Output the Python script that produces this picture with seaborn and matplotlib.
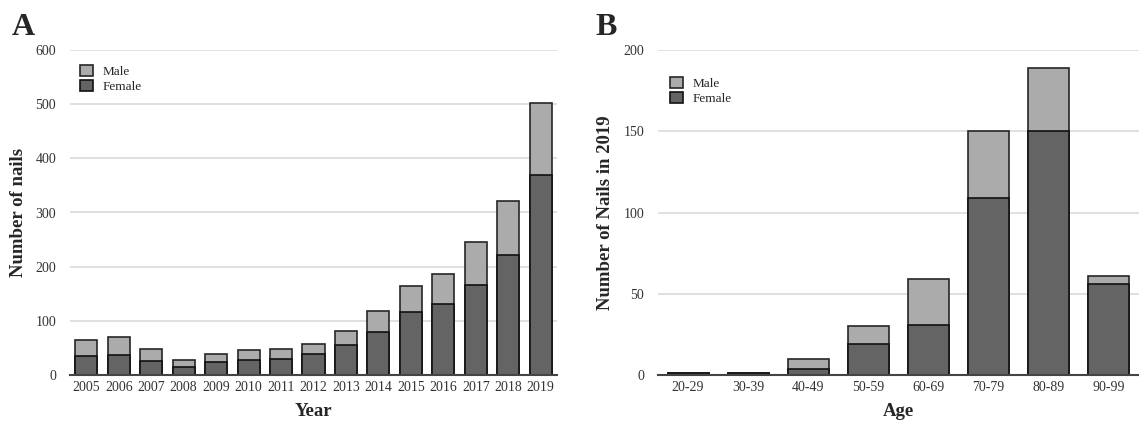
import numpy as np
import pandas as pd
import matplotlib
matplotlib.use("Agg")
import matplotlib.pyplot as plt
import seaborn as sns

# panel A: nails per year
years = ["2005", "2006", "2007", "2008", "2009", "2010", "2011", "2012",
         "2013", "2014", "2015", "2016", "2017", "2018", "2019"]
female_year = [35, 37, 25, 14, 24, 28, 30, 38, 55, 80, 116, 132, 167, 221, 369]
male_year = [30, 33, 23, 14, 14, 18, 18, 19, 27, 38, 49, 54, 79, 100, 133]

# panel B: nails in 2019 by age
ages = ["20-29", "30-39", "40-49", "50-59", "60-69", "70-79", "80-89", "90-99"]
female_age = [1, 1, 4, 19, 31, 109, 150, 56]
male_age = [0, 0, 6, 11, 28, 41, 39, 5]

sns.set_style("white")
plt.rcParams["font.family"] = ["Liberation Serif", "DejaVu Serif"]

male_col = "#ababab"
female_col = "#646464"
edge_col = "#262626"

fig = plt.figure(figsize=(11.39, 4.23), dpi=100)
axA = fig.add_axes([70/1139, 1-375/423, 487/1139, 325/423])
axB = fig.add_axes([658/1139, 1-375/423, 481/1139, 325/423])


def stacked(ax, cats, female, male, ylim, yticks, xlabel, ylabel, leg_xy, ypad):
    df = pd.DataFrame({"cat": cats, "female": female,
                       "total": np.array(female) + np.array(male)})
    sns.barplot(data=df, x="cat", y="total", color=male_col, saturation=1,
                edgecolor=edge_col, linewidth=1.2, width=0.68, ax=ax, label="Male")
    sns.barplot(data=df, x="cat", y="female", color=female_col, saturation=1,
                edgecolor="#111111", linewidth=1.2, width=0.68, ax=ax, label="Female")
    ax.set_xlim(-0.5, len(cats) - 0.5)
    ax.set_ylim(*ylim)
    ax.set_yticks(yticks)
    ax.yaxis.grid(True, color="#e0e0e0", linewidth=1.4)
    ax.set_axisbelow(True)
    for s in ["left", "right", "top"]:
        ax.spines[s].set_visible(False)
    ax.spines["bottom"].set_color("#444444")
    ax.spines["bottom"].set_linewidth(1.5)
    ax.tick_params(axis="y", length=0, pad=10, labelsize=10, labelcolor="#333333")
    ax.tick_params(axis="x", length=0, pad=4, labelsize=10, labelcolor="#333333")
    ax.set_xlabel(xlabel, fontsize=13.5, fontweight="bold", labelpad=7)
    ax.set_ylabel(ylabel, fontsize=13.5, fontweight="bold", labelpad=ypad)
    ax.legend(loc="upper left", bbox_to_anchor=leg_xy, frameon=False,
              fontsize=9.5, handlelength=0.95, handleheight=0.95,
              labelspacing=0.1, handletextpad=0.8, borderpad=0, borderaxespad=0)


stacked(axA, years, female_year, male_year, (0, 600), range(0, 601, 100),
        "Year", "Number of nails", (10/487, 1-15/325), 6)
stacked(axB, ages, female_age, male_age, (0, 200), range(0, 201, 50),
        "Age", "Number of Nails in 2019", (12/481, 1-27/325), 7)

fig.text(12/1139, 1-35/423, "A", fontsize=23, fontweight="bold", va="baseline")
fig.text(595/1139, 1-35/423, "B", fontsize=23, fontweight="bold", va="baseline")

plt.savefig("out.png", dpi=100)
